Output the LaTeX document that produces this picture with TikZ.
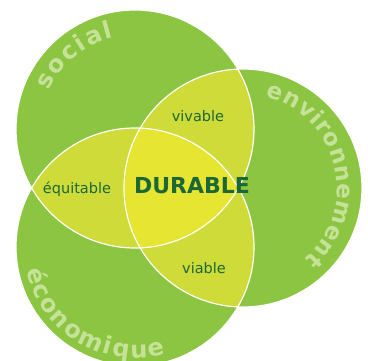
\documentclass[tikz,border=0pt]{standalone}
\usepackage{fontspec}
\setmainfont{DejaVu Sans}
\usetikzlibrary{decorations.text}
\definecolor{leaf}{RGB}{139,197,65}
\definecolor{lens}{RGB}{206,219,56}
\definecolor{core}{RGB}{229,229,50}
\definecolor{ink}{RGB}{26,104,56}
\definecolor{pale}{RGB}{198,226,152}

\begin{document}
\begin{tikzpicture}[x=1pt,y=1pt,
  small/.style={text=ink, font=\fontsize{14.5}{16}\selectfont, anchor=base},
  big/.style={text=ink, font=\fontsize{22}{24}\selectfont\bfseries, anchor=base},
  ring/.style={draw=white, line width=1.2pt},
  curved/.style={decorate, decoration={text along path, text align=fit to path,
      text={|\color{pale}|#1}}}
]
\useasboundingbox (0,0) rectangle (368,360);
\def\R{119}
\coordinate (S) at (135,231);
\coordinate (E) at (243,172);
\coordinate (C) at (135,113);

% the three spheres
\fill[leaf] (S) circle (\R) (E) circle (\R) (C) circle (\R);
% pairwise overlaps
\begin{scope}
  \clip (S) circle (\R);
  \fill[lens] (E) circle (\R);
  \fill[lens] (C) circle (\R);
\end{scope}
\begin{scope}
  \clip (E) circle (\R);
  \fill[lens] (C) circle (\R);
\end{scope}
% common core
\begin{scope}
  \clip (S) circle (\R);
  \clip (E) circle (\R);
  \fill[core] (C) circle (\R);
\end{scope}
\draw[ring] (S) circle (\R) (E) circle (\R) (C) circle (\R);

% sphere names along the rims, set in large bold type
\begin{scope}
  \fontsize{24}{26}\selectfont\bfseries
  \path[curved=social] ([shift={(156:94)}]S) arc[start angle=156, end angle=103, radius=94];
  \path[curved=économique] ([shift={(192:111)}]C) arc[start angle=192, end angle=286, radius=111];
\end{scope}
\begin{scope}
  \fontsize{23}{25}\selectfont\bfseries
  \path[curved=environnement] ([shift={(76:94)}]E) arc[start angle=76, end angle=-49, radius=94];
\end{scope}

% overlap labels
\node[small] (viv) at (198,239) {vivable};
\node[small] (equ) at (77,167) {équitable};
\node[small] (via) at (204,87) {viable};
\node[big] (dur) at (192,167) {DURABLE};
\end{tikzpicture}
\end{document}
